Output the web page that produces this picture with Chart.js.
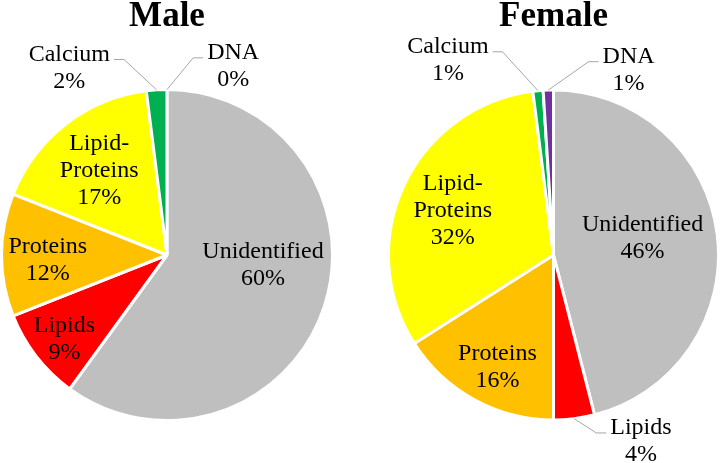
<!DOCTYPE html>
<html>
<head>
<meta charset="utf-8">
<script src="https://cdn.jsdelivr.net/npm/chart.js@4.4.0/dist/chart.umd.min.js"></script>
<style>
    body { margin: 0; background: #ffffff; }
    #wrap { position: relative; width: 720px; height: 463px; }
    .box { position: absolute; top: 0; width: 360px; height: 463px; }
</style>
</head>
<body>
<div id="wrap">
    <div class="box" style="left:0"><canvas id="maleChart"></canvas></div>
    <div class="box" style="left:360px"><canvas id="femaleChart"></canvas></div>
</div>
<script>
// Data
const categories = ['Unidentified', 'Lipids', 'Proteins', 'Lipid-Proteins', 'Calcium', 'DNA'];
const maleValues = [60, 9, 12, 17, 2, 0];
const femaleValues = [46, 4, 16, 32, 1, 1];
const sliceColors = ['#BFBFBF', '#FF0000', '#FFC000', '#FFFF00', '#00B050', '#7030A0'];

// Label placement, relative to the pie centre in units of radius
// (outside = true draws a leader line to the slice edge)
const maleLabelPos = [
    { dx: 0.58, dy: 0.06 },
    { dx: -0.62, dy: 0.51 },
    { dx: -0.72, dy: 0.03 },
    { dx: -0.41, dy: -0.51 },
    { dx: -0.59, dy: -1.13, outside: true },
    { dx: 0.40, dy: -1.14, outside: true }
];
const femaleLabelPos = [
    { dx: 0.54, dy: -0.10 },
    { dx: 0.53, dy: 1.13, outside: true },
    { dx: -0.34, dy: 0.68 },
    { dx: -0.61, dy: -0.27 },
    { dx: -0.64, dy: -1.18, outside: true },
    { dx: 0.455, dy: -1.12, outside: true }
];

const LABEL_FONT = '24px "Liberation Serif", "Times New Roman", serif';
const LINE_H = 27;

// Draws the Excel-style data labels (name + percent) and leader lines
const pieLabels = {
    id: 'pieLabels',
    afterDatasetsDraw(chart, args, opts) {
        const ctx = chart.ctx;
        const meta = chart.getDatasetMeta(0);
        const values = chart.data.datasets[0].data;
        ctx.save();
        ctx.font = LABEL_FONT;
        ctx.fillStyle = '#000000';
        ctx.textAlign = 'center';
        ctx.textBaseline = 'middle';
        meta.data.forEach((arc, i) => {
            const pos = opts.positions[i];
            const r = arc.outerRadius;
            const cx = arc.x + pos.dx * r;
            const cy = arc.y + pos.dy * r;
            const lines = chart.data.labels[i].split(/(?<=-)/);
            lines.push(values[i] + '%');
            const top = cy - (lines.length - 1) * LINE_H / 2;
            lines.forEach((t, k) => {
                ctx.fillText(t, cx, top + k * LINE_H);
            });
            if (pos.outside) {
                const w = ctx.measureText(lines[0]).width;
                const mid = (arc.startAngle + arc.endAngle) / 2;
                const ex = arc.x + Math.cos(mid) * r;
                const ey = arc.y + Math.sin(mid) * r;
                const side = ex < cx ? -1 : 1;
                const sx = cx + side * (w / 2 + 4);
                const sy = top + 5;
                ctx.beginPath();
                ctx.strokeStyle = '#A6A6A6';
                ctx.lineWidth = 1;
                ctx.moveTo(sx, sy);
                ctx.lineTo(sx + side * 10, sy);
                ctx.lineTo(ex, ey);
                ctx.stroke();
            }
        });
        ctx.restore();
    }
};

function makePie(id, title, values, labelPos, padding) {
    return new Chart(document.getElementById(id), {
        type: 'pie',
        data: {
            labels: categories,
            datasets: [{
                data: values,
                backgroundColor: sliceColors,
                borderColor: '#ffffff',
                borderWidth: 3
            }]
        },
        options: {
            responsive: true,
            maintainAspectRatio: false,
            animation: false,
            layout: { padding: padding },
            plugins: {
                legend: { display: false },
                tooltip: { enabled: false },
                title: { display: false },
                pieLabels: { positions: labelPos }
            }
        },
        plugins: [pieLabels, {
            id: 'bigTitle',
            afterDraw(chart) {
                const ctx = chart.ctx;
                const arc = chart.getDatasetMeta(0).data[0];
                ctx.save();
                ctx.font = 'bold 35px "Liberation Serif", "Times New Roman", serif';
                ctx.fillStyle = '#000000';
                ctx.textAlign = 'center';
                ctx.textBaseline = 'alphabetic';
                ctx.fillText(title, arc.x, 26);
                ctx.restore();
            }
        }]
    });
}

makePie('maleChart', 'Male', maleValues, maleLabelPos, { left: 0, right: 26, top: 88, bottom: 41 });
makePie('femaleChart', 'Female', femaleValues, femaleLabelPos, { left: 27, right: 0, top: 88, bottom: 41 });
</script>
</body>
</html>
